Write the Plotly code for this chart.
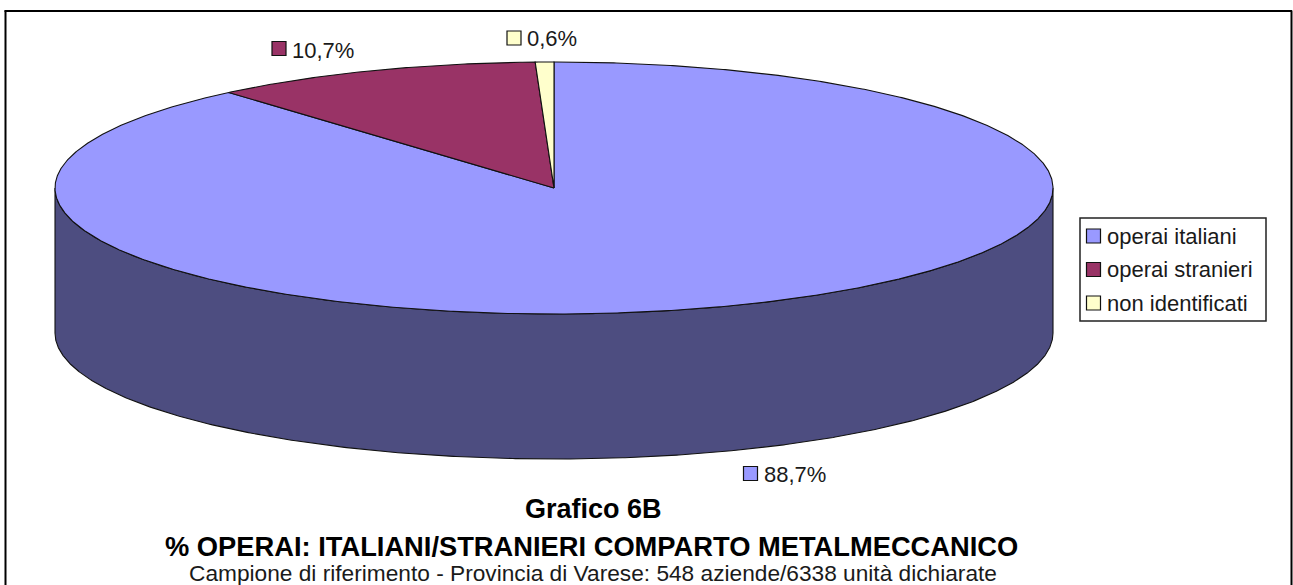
import numpy as np
import plotly.graph_objects as go

categories = ["operai italiani", "operai stranieri", "non identificati"]
values = [88.7, 10.7, 0.6]
value_labels = ["88,7%", "10,7%", "0,6%"]
top_colors = ["#9999FF", "#993366", "#FFFFCC"]
side_colors = ["#4D4D80", "#4D1A33", "#808066"]
titles = ["Grafico 6B", "% OPERAI: ITALIANI/STRANIERI COMPARTO METALMECCANICO"]
subtitle = "Campione di riferimento - Provincia di Varese: 548 aziende/6338 unità dichiarate"

CX, CY, RX, RY, DEPTH = 554, 188, 499, 126, 145
FONT = "Liberation Sans"
INK = "#1a1a1a"

def rim(a0, a1, dy=0):
    n = max(int(abs(a1 - a0) * 200), 2)
    t = np.linspace(a0, a1, n)
    return CX + RX * np.sin(t), CY - RY * np.cos(t) + dy

fig = go.Figure()
fractions = np.array(values) / sum(values)
edges = np.concatenate([[0], np.cumsum(fractions)]) * 2 * np.pi

# side wall: only the part of each slice facing the viewer (angles 90..270 deg)
for i in range(len(values)):
    a0, a1 = max(edges[i], np.pi / 2), min(edges[i + 1], 3 * np.pi / 2)
    if a1 <= a0:
        continue
    xt, yt = rim(a0, a1)
    xb, yb = rim(a1, a0, DEPTH)
    fig.add_trace(go.Scatter(
        x=np.r_[xt, xb, xt[0]], y=np.r_[yt, yb, yt[0]], mode="lines",
        fill="toself", fillcolor=side_colors[i],
        line=dict(color="#111111", width=1.1), hoverinfo="skip", showlegend=False))

# top face
for i in range(len(values)):
    xe, ye = rim(edges[i], edges[i + 1])
    fig.add_trace(go.Scatter(
        x=np.r_[CX, xe, CX], y=np.r_[CY, ye, CY], mode="lines",
        fill="toself", fillcolor=top_colors[i],
        line=dict(color="#111111", width=1.1), name=categories[i],
        hoverinfo="skip", showlegend=False))

# swatches: data labels and legend keys
label_pos = [(750.5, 473.5, 762, 474), (279, 48.5, 290, 50), (514, 38, 525, 38.5)]
legend_y = [236, 269.5, 303]
sw_x = [p[0] for p in label_pos] + [1093.5] * 3
sw_y = [p[1] for p in label_pos] + legend_y
sw_c = top_colors + top_colors
fig.add_trace(go.Scatter(
    x=sw_x, y=sw_y, mode="markers", hoverinfo="skip", showlegend=False,
    marker=dict(symbol="square", size=14, color=sw_c, line=dict(color="#111111", width=1.2))))

ann = []
def text(x, y, s, size, anchor="left", bold=False, color=INK):
    ann.append(dict(x=x, y=y, text=f"<b>{s}</b>" if bold else s, showarrow=False,
                    xanchor=anchor, yanchor="middle", xshift=0,
                    font=dict(family=FONT, size=size, color=color)))

for (sx, sy, tx, ty), lab in zip(label_pos, value_labels):
    text(tx, ty, lab, 22)
for y, cat in zip(legend_y, categories):
    text(1105, y, cat, 22)
text(593.5, 509, titles[0], 27, "center", True, "#000000")
text(591.5, 546, titles[1], 27.3, "center", True, "#000000")
text(592.5, 573, subtitle, 22.7, "center")

shapes = [
    dict(type="line", x0=5.5, x1=5.5, y0=10.5, y1=585, line=dict(color="#000000", width=2)),
    dict(type="line", x0=4.5, x1=1292, y0=11, y1=11, line=dict(color="#000000", width=2)),
    dict(type="line", x0=1291.5, x1=1291.5, y0=10.5, y1=585, line=dict(color="#000000", width=2)),
    dict(type="rect", x0=1080, x1=1266, y0=218, y1=321, line=dict(color="#222222", width=1.5),
         fillcolor="rgba(255,255,255,0)"),
]

fig.update_layout(
    width=1293, height=585, autosize=False,
    margin=dict(l=0, r=0, t=0, b=0),
    paper_bgcolor="white", plot_bgcolor="white",
    xaxis=dict(range=[0, 1293], visible=False, fixedrange=True),
    yaxis=dict(range=[585, 0], visible=False, fixedrange=True),
    annotations=ann, shapes=shapes, showlegend=False,
)
fig.write_html("out.html", config=dict(displayModeBar=False),
               post_script="document.body.style.margin='0';document.body.style.overflow='hidden';")
